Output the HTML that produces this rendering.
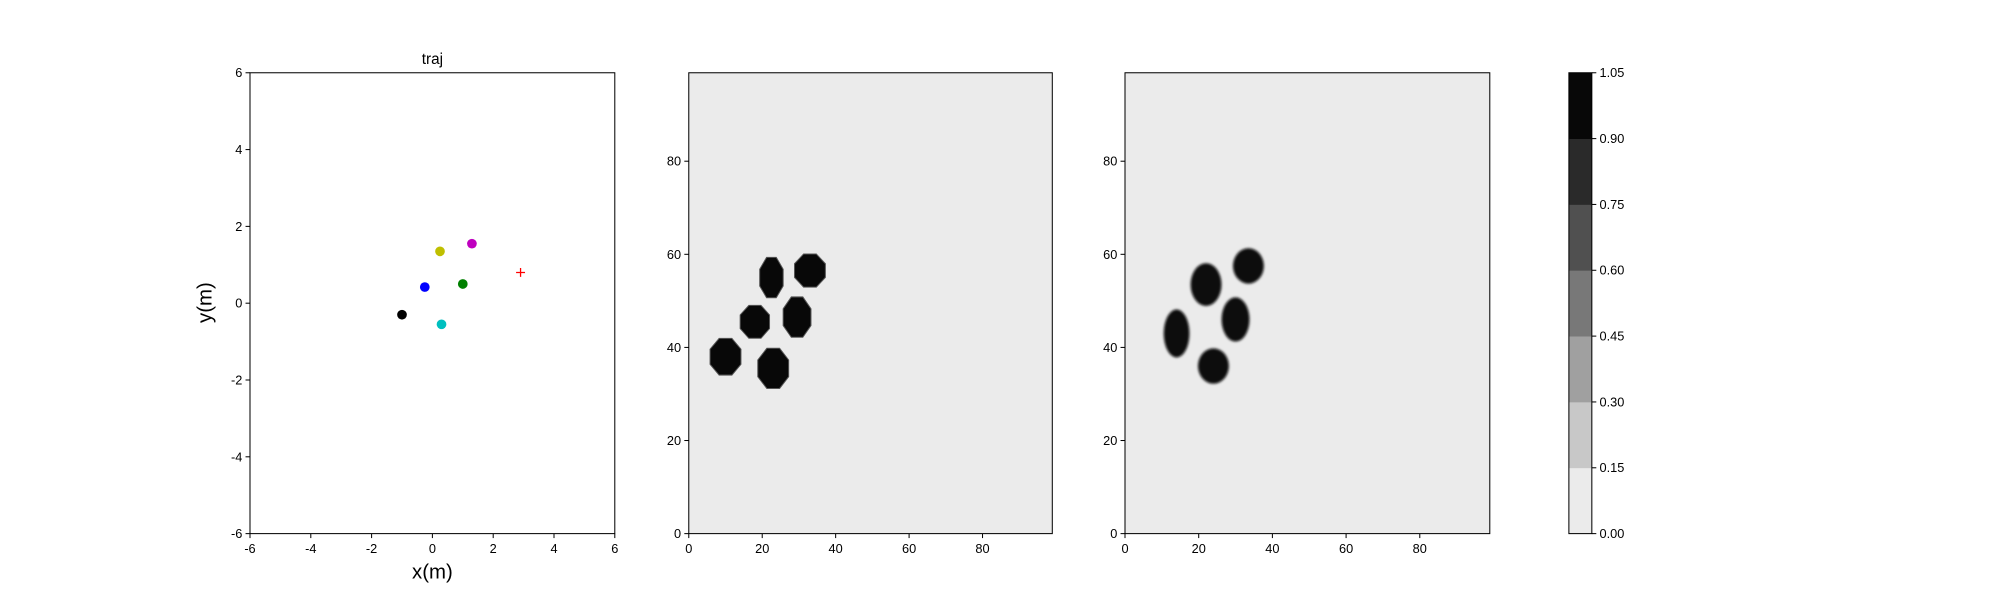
<!DOCTYPE html>
<html><head><meta charset="utf-8"><style>
html,body{margin:0;padding:0;background:#fff;}
svg{display:block;font-family:"Liberation Sans","DejaVu Sans",sans-serif;}
</style></head><body>
<svg id="fig" width="2000" height="600" viewBox="0 0 1568 470" preserveAspectRatio="none" xmlns="http://www.w3.org/2000/svg">
<defs><filter id="bl" x="-50%" y="-50%" width="200%" height="200%"><feGaussianBlur stdDeviation="1.0"/></filter></defs>
<g id="g1"></g>
<g id="g2"></g>
<g id="g3"></g>
<g id="gc"></g>
</svg>
<script>
const NS="http://www.w3.org/2000/svg";
const trajX=[-1.0,-0.25,0.25,1.3,1.0,0.3];
const trajY=[-0.3,0.42,1.35,1.55,0.5,-0.55];
const trajColors=["#000000","#0000ff","#bfbf00","#bf00bf","#008000","#00bfbf"];
const goalX=[2.9], goalY=[0.8];
const map1X=[10,18,22.5,33,29.5,23];
const map1Y=[38,45.5,55,56.5,46.5,35.5];
const map1RX=[4.2,4,3.2,4.2,3.8,4.2];
const map1RY=[5,4.5,5.5,4.5,5.5,5.5];
const map2X=[14,22,33.5,30,24];
const map2Y=[43,53.5,57.5,46,36];
const map2RX=[3.5,4.2,4.2,3.8,4.2];
const map2RY=[6.5,5.8,4.8,6,4.8];
const trajTicks=[-6,-4,-2,0,2,4,6];
const mapXTicks=[0,20,40,60,80];
const mapYTicks=[0,20,40,60,80];
const cbLevels=[0,0.15,0.3,0.45,0.6,0.75,0.9,1.05];
const cbColors=["#ebebeb","#c8c8c8","#a0a0a0","#787878","#505050","#2a2a2a","#080808"];
const cbLabels=["0.00","0.15","0.30","0.45","0.60","0.75","0.90","1.05"];
const T=57,B=418;
function el(p,tag,a,txt){const e=document.createElementNS(NS,tag);for(const k in a)e.setAttribute(k,a[k]);if(txt!==undefined)e.textContent=txt;p.appendChild(e);return e;}
function axes(g,L,R,xmin,xmax,ymin,ymax,xt,yt,bg){
  const sx=v=>L+(v-xmin)/(xmax-xmin)*(R-L), sy=v=>B-(v-ymin)/(ymax-ymin)*(B-T);
  el(g,"rect",{x:L,y:T,width:R-L,height:B-T,fill:bg});
  xt.forEach(v=>{const x=sx(v);el(g,"line",{x1:x,x2:x,y1:B,y2:B+3.5,stroke:"#000","stroke-width":0.8});
    const t=el(g,"text",{x:x,y:B+15,"font-size":10,"text-anchor":"middle"},String(v));
    
    });
  yt.forEach(v=>{const y=sy(v);el(g,"line",{x1:L-3.5,x2:L,y1:y,y2:y,stroke:"#000","stroke-width":0.8});
    const t=el(g,"text",{x:L-6,y:y+3.5,"font-size":10,"text-anchor":"end"},String(v));
    
    });
  return {sx,sy};
}
function frame(g,L,R){el(g,"rect",{x:L,y:T,width:R-L,height:B-T,fill:"none",stroke:"#000","stroke-width":0.8});}
const g1=document.getElementById("g1");
const a1=axes(g1,196,482,-6,6,-6,6,trajTicks,trajTicks,"#fff");
trajX.forEach((v,i)=>{const c=el(g1,"circle",{cx:a1.sx(v),cy:a1.sy(trajY[i]),r:3.8,fill:trajColors[i]});
  
  });
goalX.forEach((v,i)=>{const x=a1.sx(v),y=a1.sy(goalY[i]);const p=el(g1,"path",{d:`M${x-3.5},${y}H${x+3.5}M${x},${y-3.5}V${y+3.5}`,stroke:"#ff0000","stroke-width":1});
  
  });
frame(g1,196,482);
el(g1,"text",{x:339,y:50,"font-size":12,"text-anchor":"middle"},"traj");
el(g1,"text",{x:339,y:453,"font-size":16,"text-anchor":"middle"},"x(m)");
el(g1,"text",{x:0,y:0,"font-size":16,"text-anchor":"middle",transform:"translate(166,237) rotate(-90)"},"y(m)");
const g2=document.getElementById("g2");
const a2=axes(g2,540,825,0,99,0,99,mapXTicks,mapYTicks,"#ebebeb");
const k=(825-540)/99;
map1X.forEach((v,i)=>{const cx=a2.sx(v),cy=a2.sy(map1Y[i]),rx=map1RX[i]*k,ry=map1RY[i]*k;
  let pts=[];for(let j=0;j<8;j++){const a=Math.PI/8+j*Math.PI/4;pts.push((cx+rx*Math.cos(a)*1.08).toFixed(1)+","+(cy+ry*Math.sin(a)*1.08).toFixed(1));}
  const p=el(g2,"polygon",{points:pts.join(" "),fill:"#080808",stroke:"#555","stroke-width":0.8});
  
  });
frame(g2,540,825);
const g3=document.getElementById("g3");
const a3=axes(g3,882,1168,0,99,0,99,mapXTicks,mapYTicks,"#ebebeb");
map2X.forEach((v,i)=>{const e=el(g3,"ellipse",{cx:a3.sx(v),cy:a3.sy(map2Y[i]),rx:map2RX[i]*k,ry:map2RY[i]*k,fill:"#080808",filter:"url(#bl)"});
  
  });
frame(g3,882,1168);
const gc=document.getElementById("gc");
const CL=1230,CR=1248,vmax=cbLevels[cbLevels.length-1];
const cy=v=>B-v/vmax*(B-T);
cbColors.forEach((c,i)=>{const r=el(gc,"rect",{x:CL,y:cy(cbLevels[i+1]),width:CR-CL,height:cy(cbLevels[i])-cy(cbLevels[i+1])+0.3,fill:c});
  
  });
cbLevels.forEach((v,i)=>{const y=cy(v);el(gc,"line",{x1:CR,x2:CR+3.5,y1:y,y2:y,stroke:"#000","stroke-width":0.8});
  const t=el(gc,"text",{x:CR+6,y:y+3.5,"font-size":10},cbLabels[i]);
  
  });
el(gc,"rect",{x:CL,y:T,width:CR-CL,height:B-T,fill:"none",stroke:"#000","stroke-width":0.8});
</script>
</body></html>
